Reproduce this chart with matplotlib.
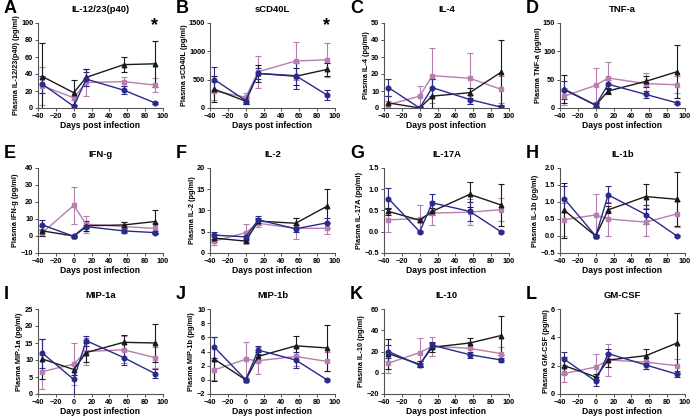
import matplotlib
matplotlib.use("Agg")
import matplotlib.pyplot as plt
import numpy as np

plt.rcParams['font.family'] = ['Liberation Sans', 'DejaVu Sans']

days = [-35, 0, 14, 56, 91]

letters = list("ABCDEFGHIJKL")
titles = ["IL-12/23(p40)", "sCD40L", "IL-4", "TNF-a",
          "IFN-g", "IL-2", "IL-17A", "IL-1b",
          "MIP-1a", "MIP-1b", "IL-10", "GM-CSF"]
ylabels = ["Plasma IL-12/23(p40) (pg/ml)", "Plasma sCD40L (pg/ml)", "Plasma IL-4 (pg/ml)",
           "Plasma TNF-a (pg/ml)", "Plasma IFN-g (pg/ml)", "Plasma IL-2 (pg/ml)",
           "Plasma IL-17A (pg/ml)", "Plasma IL-1b (pg/ml)", "Plasma MIP-1a (pg/ml)",
           "Plasma MIP-1b (pg/ml)", "Plasma IL-10 (pg/ml)", "Plasma GM-CSF (pg/ml)"]
yticks = [[0, 20, 40, 60, 80, 100], [0, 500, 1000, 1500], [0, 10, 20, 30, 40, 50],
          [0, 50, 100, 150], [-10, 0, 10, 20, 30, 40], [0, 5, 10, 15, 20],
          [-0.5, 0.0, 0.5, 1.0, 1.5], [-0.5, 0.0, 0.5, 1.0, 1.5, 2.0], [0, 5, 10, 15, 20, 25],
          [-2, 0, 2, 4, 6, 8, 10], [-20, 0, 20, 40, 60], [0, 2, 4, 6]]

# black series (triangles)
black_mean = [
    [37, 18, 36, 51, 52], [330, 120, 610, 560, 680], [3, 0, 7, 9, 21], [33, 5, 30, 47, 64],
    [3, 0, 6, 6.5, 8.5], [3.5, 2.8, 7.5, 7, 11], [0.48, 0.27, 0.48, 0.88, 0.63],
    [0.75, 0, 0.77, 1.16, 1.08], [10.3, 7.2, 12.2, 15.2, 15], [2.9, 0, 3.3, 4.8, 4.5],
    [18, 8, 24, 28, 35], [2, 1.2, 2.4, 2.7, 3.6]]
black_err = [
    [39, 15, 10, 9, 27], [230, 50, 150, 150, 120], [4, 0.3, 10, 3, 19], [25, 3, 5, 10, 47],
    [3, 0.3, 3, 2, 7], [1, 0.5, 0.8, 1.2, 4], [0.08, 0.05, 0.08, 0.3, 0.5],
    [0.8, 0.02, 0.1, 0.38, 0.8], [5.8, 1.5, 2.8, 2.3, 5.5], [3.1, 0.1, 0.7, 1.4, 3.3],
    [14, 3, 4, 5, 18], [0.6, 0.2, 0.5, 0.5, 2.1]]
# pink series (squares)
pink_mean = [
    [26, 12, 30, 31, 27], [300, 190, 640, 830, 850], [2, 7, 19, 17.5, 11], [21, 40, 53, 43, 41],
    [2, 18, 7, 5.5, 4.5], [2.8, 4.8, 7, 5.8, 5.8], [0.28, 0.31, 0.44, 0.46, 0.52],
    [0.48, 0.62, 0.5, 0.41, 0.65], [6.6, 8.8, 12.5, 13, 10.7], [1.4, 2.9, 2.7, 3.3, 2.6],
    [9, 19, 25, 23, 18], [1.45, 1.9, 2.4, 2.25, 2]]
pink_err = [
    [22, 2, 16, 5, 8], [150, 80, 280, 330, 300], [2, 6, 16, 15, 8], [15, 30, 28, 18, 15],
    [2, 11, 5, 3, 3], [1, 2, 1, 2.5, 1.3], [0.28, 0.32, 0.28, 0.3, 0.27],
    [0.48, 0.62, 0.5, 0.41, 0.38], [5, 6.2, 4, 4, 3], [1.4, 2.5, 1.9, 1.4, 1.4],
    [9, 14, 9, 6, 6], [0.6, 0.9, 1.15, 0.5, 0.5]]
# blue series (circles)
blue_mean = [
    [28, 2, 34, 21, 6], [500, 130, 610, 570, 230], [12, 0, 12, 5, 0.5], [32, 5, 42, 24, 9],
    [6.5, -0.2, 5.5, 3, 2], [4.2, 3.8, 7.8, 5.7, 7.1], [0.78, 0, 0.68, 0.48, 0],
    [1.09, 0, 1.21, 0.63, 0], [12, 4.3, 15.7, 10.7, 6], [4.6, 0, 4.2, 2.8, 0],
    [20, 7, 26, 17, 12], [2.45, 0.9, 2.85, 2.05, 1.4]]
blue_err = [
    [10, 2, 8, 5, 1], [220, 60, 90, 230, 80], [5, 0.5, 5, 2.5, 0.5], [16, 3, 8, 6, 2],
    [3, 0.3, 1, 1, 1], [0.8, 0.8, 0.8, 0.8, 1.2], [0.25, 0.02, 0.2, 0.22, 0.02],
    [0.38, 0.02, 0.25, 0.28, 0.02], [4.3, 4.3, 1.5, 2.3, 1.4], [1.5, 0.1, 0.6, 1.1, 0.1],
    [6, 2, 3, 3, 1.5], [0.55, 0.3, 0.35, 0.3, 0.2]]

star_panels = {0: 97, 1: 1450}

W, H = 695, 416
fig = plt.figure(figsize=(W / 100, H / 100), dpi=100)

lefts = [38, 210, 384, 560]
tops = [23, 168, 309]
aw, ah = 125, 85

series = [
    (pink_mean, pink_err, '#b67fb0', 's'),
    (black_mean, black_err, '#1a1a1a', '^'),
    (blue_mean, blue_err, '#2a2a8c', 'o'),
]

for i in range(12):
    r, c = divmod(i, 4)
    L, T = lefts[c], tops[r]
    ax = fig.add_axes([L / W, 1 - (T + ah) / H, aw / W, ah / H])
    for mean, err, col, mk in series:
        ax.errorbar(days, mean[i], yerr=err[i], color=col, marker=mk, markersize=3.3,
                    lw=1.0, elinewidth=0.8, capsize=2, capthick=0.8)
    yt = yticks[i]
    ax.set_ylim(yt[0], yt[-1])
    ax.set_yticks(yt)
    ax.set_xlim(-40, 100)
    ax.set_xticks([-40, -20, 0, 20, 40, 60, 80, 100])
    for s in ['top', 'right']:
        ax.spines[s].set_visible(False)
    for s in ['left', 'bottom']:
        ax.spines[s].set_color('#555555')
        ax.spines[s].set_linewidth(0.8)
    ax.tick_params(length=2.5, width=0.7, color='#555555', labelsize=5.3, pad=1)
    for lab in ax.get_xticklabels() + ax.get_yticklabels():
        lab.set_fontweight('bold')
    ax.set_xlabel("Days post infection", fontsize=6.2, fontweight='bold', labelpad=1)
    ax.set_ylabel(ylabels[i], fontsize=5.3, fontweight='bold', labelpad=1)
    ax.set_title(titles[i], fontsize=6.8, fontweight='bold', pad=8)
    if i in star_panels:
        ax.text(91, star_panels[i], '*', fontsize=13, fontweight='bold',
                ha='center', va='center')
    fig.text((L - 34) / W, 1 - (T - 10) / H, letters[i], fontsize=13,
             fontweight='bold', ha='left', va='baseline')

fig.savefig("out.png", dpi=100)
